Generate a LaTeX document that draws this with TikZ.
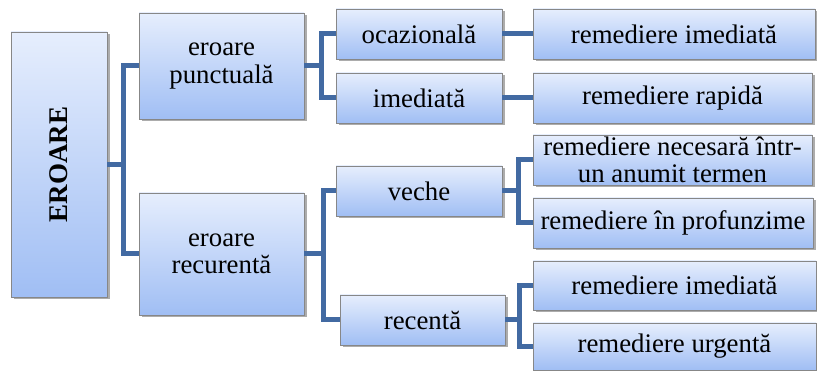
\documentclass[tikz,border=0pt]{standalone}
\usepackage{fontspec}
\setmainfont{Liberation Serif}
\usetikzlibrary{shadows}
\definecolor{conn}{RGB}{66,106,162}
\definecolor{boxtop}{RGB}{230,238,253}
\definecolor{boxbot}{RGB}{160,190,244}
\definecolor{boxline}{RGB}{135,135,135}
\tikzset{
  box/.style={draw=boxline, line width=0.8pt, top color=boxtop, bottom color=boxbot,
    inner sep=0pt, outer sep=0pt, align=center,
    font=\fontsize{26.8}{27.5}\selectfont,
    drop shadow={shadow xshift=2.5pt, shadow yshift=-2.5pt, opacity=0.5, fill=black!65}},
  link/.style={draw=conn, line width=5pt, line join=miter}
}
\begin{document}
\begin{tikzpicture}[x=1pt,y=-1pt]
\useasboundingbox (0,0) rectangle (817,371);
\node[box, minimum width=96pt, minimum height=265pt] (E) at (59,164.5)
  {\rotatebox{90}{\fontsize{27}{28}\selectfont\bfseries EROARE}};
\node[box, minimum width=165pt, minimum height=106pt] (P) at (221.5,66) {eroare\\punctuală};
\node[box, minimum width=165pt, minimum height=122pt] (R) at (221.5,254) {eroare\\recurentă};
\node[box, minimum width=166pt, minimum height=50pt] (oc) at (419,34) {ocazională};
\node[box, minimum width=166pt, minimum height=50pt] (im) at (419,98) {imediată};
\node[box, minimum width=166pt, minimum height=50pt] (ve) at (419,191) {veche};
\node[box, minimum width=165pt, minimum height=50pt] (rc) at (422.5,320) {recentă};
\node[box, minimum width=282pt, minimum height=50pt] (r1) at (674,34) {remediere imediată};
\node[box, minimum width=279pt, minimum height=50pt] (r2) at (672.5,98) {remediere rapidă};
\node[box, minimum width=279pt, minimum height=50pt] (r3) at (672.5,160) {remediere necesară într-\\un anumit termen};
\node[box, minimum width=280pt, minimum height=50pt] (r4) at (673,223) {remediere în profunzime};
\node[box, minimum width=283pt, minimum height=49pt] (r5) at (674.5,285.5) {remediere imediată};
\node[box, minimum width=283pt, minimum height=47pt] (r6) at (674.5,346.5) {remediere urgentă};
\draw[link] (E.east) -- ([xshift=16pt]E.east) |- (P.west);
\draw[link] ([xshift=16pt]E.east) |- (R.west);
\draw[link] (P.east) -- ([xshift=17pt]P.east) |- (oc.west);
\draw[link] ([xshift=17pt]P.east) |- (im.west);
\draw[link] (R.east) -- ([xshift=19pt]R.east) |- (ve.west);
\draw[link] ([xshift=19pt]R.east) |- (rc.west);
\draw[link] (oc.east) -- (r1.west);
\draw[link] (im.east) -- (r2.west);
\draw[link] (ve.east) -- ([xshift=16pt]ve.east) |- (r3.west);
\draw[link] ([xshift=16pt]ve.east) |- (r4.west);
\draw[link] (rc.east) -- ([xshift=14pt]rc.east) |- (r5.west);
\draw[link] ([xshift=14pt]rc.east) |- (r6.west);
\end{tikzpicture}
\end{document}
